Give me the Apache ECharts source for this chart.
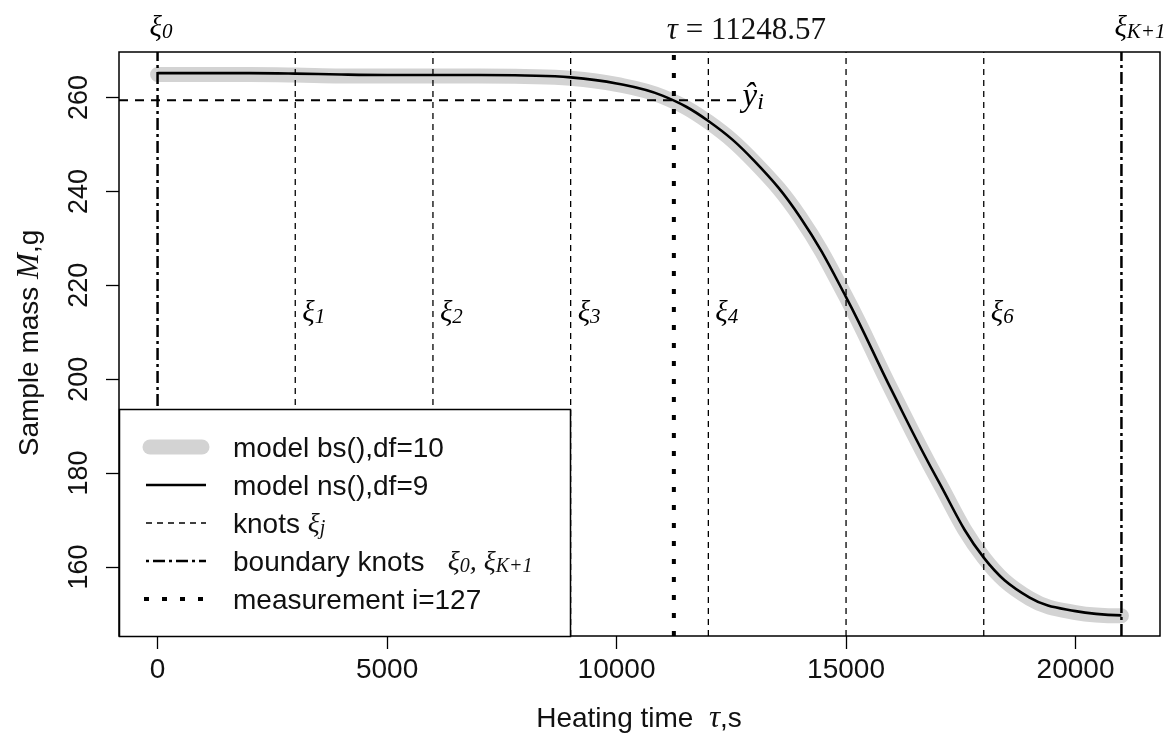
<!DOCTYPE html>
<html>
<head>
<meta charset="utf-8">
<script src="https://cdn.jsdelivr.net/npm/echarts@6/dist/echarts.min.js"></script>
<style>
  html, body { margin: 0; background: #fff; }
  #chart { width: 1173px; height: 744px; }
</style>
</head>
<body>
<div id="chart"></div>
<script>
// values
const timeS = [0, 1000, 2000, 3000, 4000, 5000, 6000, 7000, 8000, 9000, 10000,
  11000, 12000, 13000, 14000, 15000, 16000, 17000, 18000, 19000, 20000, 21000];
const massBs = [264.9, 264.9, 264.9, 264.8, 264.6, 264.6, 264.6, 264.6, 264.5, 264.1, 262.8,
  260.2, 254.8, 246.3, 234.5, 217.5, 197.5, 178.5, 162.0, 153.3, 150.3, 149.6];
const massNs = [265.2, 265.2, 265.2, 265.1, 264.9, 264.8, 264.8, 264.8, 264.7, 264.3, 263.0,
  260.4, 255.0, 246.5, 234.5, 217.5, 197.5, 178.5, 162.0, 153.5, 150.6, 149.7];
const knots = [3000, 6000, 9000, 12000, 15000, 18000];
const knotNames = ['1', '2', '3', '4', '5', '6'];
const knotLabelKnots = [3000, 6000, 9000, 12000, 18000]; // ξ5 is hidden under the curve
const knotLabelY = 214.1;
const boundaryKnots = [0, 21000];
const tauI = 11248.57;
const yHat = 259.4;
const yHatEnd = 12613;
const xTicks = [0, 5000, 10000, 15000, 20000];
const yTicks = [160, 180, 200, 220, 240, 260];
const xRange = [-840, 21840];
const yRange = [145.3, 269.7];

const chart = echarts.init(document.getElementById('chart'));

const sans = 'Liberation Sans';
const serif = 'Liberation Serif';
const ink = '#111';

function vline(x, style, z) {
  return {
    type: 'line', silent: true, symbol: 'none', z: z,
    data: [[x, yRange[0]], [x, yRange[1]]],
    lineStyle: style
  };
}

const series = [];
series.push({
  name: 'bs', type: 'line', symbol: 'none', smooth: 0.4, silent: true, z: 2,
  data: timeS.map((t, i) => [t, massBs[i]]),
  lineStyle: { color: '#d3d3d3', width: 15, cap: 'round' }
});
knots.forEach(k => series.push(vline(k, { color: '#000', width: 1.3, type: [6, 5] }, 3)));
boundaryKnots.forEach(k => series.push(vline(k, { color: '#000', width: 2.5, type: [12, 4, 3, 4] }, 3)));
series.push({
  type: 'line', silent: true, symbol: 'none', z: 3,
  data: [[xRange[0], yHat], [yHatEnd, yHat]],
  lineStyle: { color: '#000', width: 2, type: [9, 7] }
});
series.push({
  name: 'ns', type: 'line', symbol: 'none', smooth: 0.4, silent: true, z: 4,
  data: timeS.map((t, i) => [t, massNs[i]]),
  lineStyle: { color: '#000', width: 2.6 }
});
series.push(vline(tauI, { color: '#000', width: 4, type: [5, 13] }, 5));

const option = {
  animation: false,
  backgroundColor: '#fff',
  grid: {
    left: 119, right: 13, top: 52, bottom: 108,
    show: true, borderColor: '#000', borderWidth: 1.5,
    outerBoundsMode: 'none'
  },
  xAxis: {
    type: 'value', min: xRange[0], max: xRange[1],
    axisLine: { show: false, onZero: false },
    splitLine: { show: false },
    axisTick: { show: true, customValues: xTicks, length: 13, lineStyle: { color: '#000', width: 1.3 } },
    axisLabel: { customValues: xTicks, margin: 20, fontSize: 28, fontFamily: sans, color: ink,
      formatter: v => String(v) }
  },
  yAxis: {
    type: 'value', min: yRange[0], max: yRange[1],
    axisLine: { show: false, onZero: false },
    splitLine: { show: false },
    axisTick: { show: true, customValues: yTicks, length: 13, lineStyle: { color: '#000', width: 1.3 } },
    axisLabel: { customValues: yTicks, rotate: 90, margin: 26, fontSize: 27, fontFamily: sans, color: ink,
      formatter: v => String(v) }
  },
  series: series
};
chart.setOption(option);

// annotations placed at data positions
const px = (x, y) => chart.convertToPixel({ gridIndex: 0 }, [x, y]);
const richXi = {
  g: { fontFamily: serif, fontStyle: 'italic', fontSize: 29, color: ink },
  s: { fontFamily: serif, fontStyle: 'italic', fontSize: 21, color: ink, padding: [8, 0, 0, 0] }
};
const graphic = [];

knotLabelKnots.forEach(k => {
  const p = px(k, knotLabelY);
  graphic.push({
    type: 'text', x: p[0] + 7, y: p[1], z: 50,
    style: { text: '{g|ξ}{s|' + knotNames[knots.indexOf(k)] + '}', rich: richXi, verticalAlign: 'middle', align: 'left' }
  });
});

const p0 = px(boundaryKnots[0], yRange[1]);
graphic.push({
  type: 'text', x: p0[0] - 8, y: 28, z: 50,
  style: { text: '{g|ξ}{s|0}', rich: richXi, verticalAlign: 'middle', align: 'left' }
});
const p1 = px(boundaryKnots[1], yRange[1]);
graphic.push({
  type: 'text', x: p1[0] - 7, y: 28, z: 50,
  style: { text: '{g|ξ}{s|K+1}', rich: richXi, verticalAlign: 'middle', align: 'left' }
});
const pt = px(tauI, yRange[1]);
graphic.push({
  type: 'text', x: pt[0] - 7, y: 31, z: 50,
  style: {
    text: '{t|τ} = ' + tauI.toFixed(2), verticalAlign: 'middle', align: 'left',
    fontFamily: serif, fontSize: 31, fill: ink,
    rich: { t: { fontFamily: serif, fontStyle: 'italic', fontSize: 31, color: ink } }
  }
});
const ph = px(yHatEnd, yHat);
graphic.push({
  type: 'text', x: ph[0] + 6, y: ph[1] - 3, z: 50,
  style: {
    text: '{y|ŷ}{s|i}', verticalAlign: 'middle', align: 'left',
    rich: {
      y: { fontFamily: serif, fontStyle: 'italic', fontSize: 33, color: ink },
      s: { fontFamily: serif, fontStyle: 'italic', fontSize: 24, color: ink, padding: [10, 0, 0, 0] }
    }
  }
});

// axis titles
graphic.push({
  type: 'text', x: 639, y: 719, z: 50,
  style: {
    text: 'Heating time  {t|τ},s', align: 'center', verticalAlign: 'middle',
    fontFamily: sans, fontSize: 28, fill: ink,
    rich: { t: { fontFamily: serif, fontStyle: 'italic', fontSize: 31, color: ink } }
  }
});
graphic.push({
  type: 'text', x: 30, y: 343, rotation: Math.PI / 2, z: 50,
  style: {
    text: 'Sample mass {m|M},g', align: 'center', verticalAlign: 'middle',
    fontFamily: sans, fontSize: 28, fill: ink,
    rich: { m: { fontFamily: serif, fontStyle: 'italic', fontSize: 31, color: ink } }
  }
});

// legend box (bottom left, like R's legend())
const legX = 119, legY = 409, legW = 451, legH = 227;
const rows = [447, 485, 523, 561, 599];
const sx1 = 146, sx2 = 206, tx = 233;
graphic.push({
  type: 'rect', z: 100,
  shape: { x: legX + 0.5, y: legY + 0.5, width: legW, height: legH },
  style: { fill: '#fff', stroke: '#000', lineWidth: 1.5 }
});
graphic.push({ type: 'line', z: 101, shape: { x1: 150, y1: rows[0], x2: 202, y2: rows[0] },
  style: { stroke: '#d3d3d3', lineWidth: 15, lineCap: 'round' } });
graphic.push({ type: 'line', z: 101, shape: { x1: sx1, y1: rows[1], x2: sx2, y2: rows[1] },
  style: { stroke: '#000', lineWidth: 2.6 } });
graphic.push({ type: 'line', z: 101, shape: { x1: sx1, y1: rows[2], x2: sx2, y2: rows[2] },
  style: { stroke: '#000', lineWidth: 1.3, lineDash: [6, 5] } });
graphic.push({ type: 'line', z: 101, shape: { x1: sx1, y1: rows[3], x2: sx2, y2: rows[3] },
  style: { stroke: '#000', lineWidth: 2.5, lineDash: [3, 4, 12, 4] } });
graphic.push({ type: 'line', z: 101, shape: { x1: sx1 - 2, y1: rows[4], x2: sx2 + 4, y2: rows[4] },
  style: { stroke: '#000', lineWidth: 4, lineDash: [5, 13] } });

const legTexts = [
  'model bs(),df=10',
  'model ns(),df=9',
  'knots {g|ξ}{s|j}',
  'boundary knots   {g|ξ}{s|0}{g|, ξ}{s|K+1}',
  'measurement i=127'
];
legTexts.forEach((t, i) => {
  graphic.push({
    type: 'text', x: tx, y: rows[i] + 2, z: 102,
    style: {
      text: t, align: 'left', verticalAlign: 'middle',
      fontFamily: sans, fontSize: 28, fill: ink,
      rich: {
        g: { fontFamily: serif, fontStyle: 'italic', fontSize: 28, color: ink },
        s: { fontFamily: serif, fontStyle: 'italic', fontSize: 20, color: ink, padding: [8, 0, 0, 0] }
      }
    }
  });
});

chart.setOption({ graphic: graphic });
</script>
</body>
</html>
